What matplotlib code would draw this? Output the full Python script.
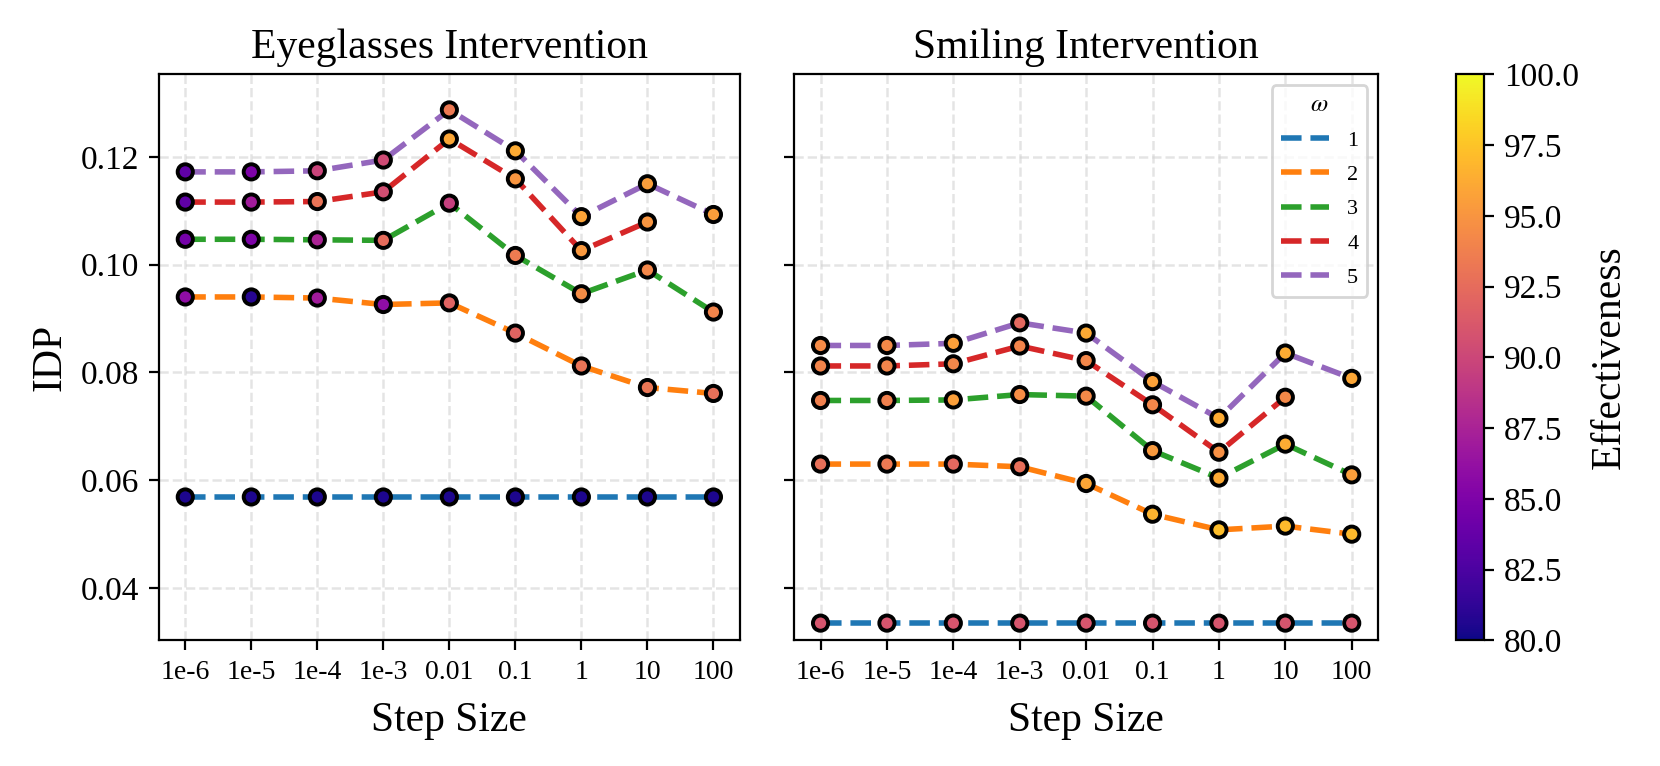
import numpy as np
import matplotlib
matplotlib.use("Agg")
import matplotlib.pyplot as plt
from matplotlib.colors import Normalize

plt.rcParams['font.family'] = ['Liberation Serif', 'DejaVu Serif']
plt.rcParams['mathtext.fontset'] = 'stix'

step_labels = ['1e-6', '1e-5', '1e-4', '1e-3', '0.01', '0.1', '1', '10', '100']
omegas = [1, 2, 3, 4, 5]
nan = np.nan

# IDP values, Eyeglasses
eye_w1 = [0.0569, 0.0569, 0.0569, 0.0569, 0.0569, 0.0569, 0.0569, 0.0569, 0.0569]
eye_w2 = [0.0940, 0.0940, 0.0938, 0.0926, 0.0929, 0.0873, 0.0812, 0.0772, 0.0761]
eye_w3 = [0.1047, 0.1047, 0.1046, 0.1045, 0.1114, 0.1017, 0.0946, 0.0990, 0.0912]
eye_w4 = [0.1116, 0.1116, 0.1117, 0.1135, 0.1233, 0.1159, 0.1026, 0.1079, nan]
eye_w5 = [0.1172, 0.1172, 0.1174, 0.1194, 0.1287, 0.1211, 0.1089, 0.1150, 0.1093]

# Effectiveness values, Eyeglasses
eye_e1 = [80.5, 80.5, 80.5, 80.5, 80.5, 80.5, 80.5, 80.5, 80.5]
eye_e2 = [86.0, 80.8, 87.0, 86.0, 92.0, 92.0, 93.0, 93.2, 92.8]
eye_e3 = [84.5, 85.0, 87.5, 92.5, 89.5, 93.5, 94.5, 94.2, 94.0]
eye_e4 = [83.5, 87.0, 93.0, 90.5, 96.0, 95.0, 95.2, 95.0, nan]
eye_e5 = [83.5, 85.0, 89.8, 90.3, 93.3, 96.2, 95.8, 95.5, 95.5]

# IDP values, Smiling
smi_w1 = [0.0335, 0.0335, 0.0335, 0.0335, 0.0335, 0.0335, 0.0335, 0.0335, 0.0335]
smi_w2 = [0.0630, 0.0630, 0.0630, 0.0625, 0.0594, 0.0537, 0.0508, 0.0515, 0.0500]
smi_w3 = [0.0748, 0.0748, 0.0749, 0.0759, 0.0756, 0.0655, 0.0604, 0.0667, 0.0610]
smi_w4 = [0.0812, 0.0812, 0.0816, 0.0849, 0.0822, 0.0740, 0.0652, 0.0754, nan]
smi_w5 = [0.0850, 0.0850, 0.0854, 0.0892, 0.0873, 0.0783, 0.0715, 0.0836, 0.0789]

# Effectiveness values, Smiling
smi_e1 = [91.0, 91.0, 91.0, 91.0, 91.0, 91.0, 91.0, 91.0, 91.0]
smi_e2 = [92.8, 93.3, 92.2, 92.7, 96.0, 96.7, 97.2, 97.0, 97.0]
smi_e3 = [93.8, 93.8, 95.6, 94.6, 94.3, 95.3, 96.1, 96.2, 95.5]
smi_e4 = [94.0, 94.0, 94.2, 94.0, 94.2, 94.2, 94.7, 94.3, nan]
smi_e5 = [94.4, 94.3, 95.6, 92.2, 96.1, 95.7, 96.2, 96.3, 96.0]

panels = [
    ("Eyeglasses Intervention", [eye_w1, eye_w2, eye_w3, eye_w4, eye_w5],
     [eye_e1, eye_e2, eye_e3, eye_e4, eye_e5]),
    ("Smiling Intervention", [smi_w1, smi_w2, smi_w3, smi_w4, smi_w5],
     [smi_e1, smi_e2, smi_e3, smi_e4, smi_e5]),
]

line_colors = ['#1f77b4', '#ff7f0e', '#2ca02c', '#d62728', '#9467bd']
norm = Normalize(vmin=80, vmax=100)
cmap = plt.get_cmap('plasma')

fig = plt.figure(figsize=(8.3, 3.83), dpi=200)
ax1 = fig.add_axes([0.0957, 0.164, 0.350, 0.739])
ax2 = fig.add_axes([0.4783, 0.164, 0.352, 0.739], sharey=ax1)
cax = fig.add_axes([0.877, 0.164, 0.0172, 0.739])

x = np.arange(len(step_labels))
sc = None
for ax, (title, idps, effs) in zip([ax1, ax2], panels):
    for w, y, e, c in zip(omegas, idps, effs, line_colors):
        y = np.array(y, dtype=float)
        e = np.array(e, dtype=float)
        ax.plot(x, y, linestyle='--', color=c, linewidth=2, label=str(w), zorder=2)
        m = ~np.isnan(y)
        sc = ax.scatter(x[m], y[m], c=e[m], cmap=cmap, norm=norm, s=30,
                        edgecolors='black', linewidths=1.4, zorder=3)
    ax.set_title(title, fontsize=15)
    ax.set_xlabel('Step Size', fontsize=15, labelpad=6)
    ax.set_xticks(x)
    ax.set_xticklabels(step_labels, fontsize=10)
    ax.grid(True, linestyle='--', color='lightgray', alpha=0.6, linewidth=0.9)
    ax.tick_params(axis='y', labelsize=12)

ax1.set_ylabel('IDP', fontsize=15)
ax1.set_yticks([0.04, 0.06, 0.08, 0.10, 0.12])
ax1.set_yticklabels(['0.04', '0.06', '0.08', '0.10', '0.12'])
ax1.set_ylim(0.0303, 0.1353)
plt.setp(ax2.get_yticklabels(), visible=False)

leg = ax2.legend(title=r'$\omega$', fontsize=8, title_fontsize=9, loc='upper right',
                 labelspacing=0.62, handlelength=2.2)

cb = fig.colorbar(sc, cax=cax)
cb.set_ticks([80, 82.5, 85, 87.5, 90, 92.5, 95, 97.5, 100])
cb.set_ticklabels(['80.0', '82.5', '85.0', '87.5', '90.0', '92.5', '95.0', '97.5', '100.0'])
cb.ax.tick_params(labelsize=12)
cb.set_label('Effectiveness', fontsize=15)

fig.savefig('out.png', dpi=200)
